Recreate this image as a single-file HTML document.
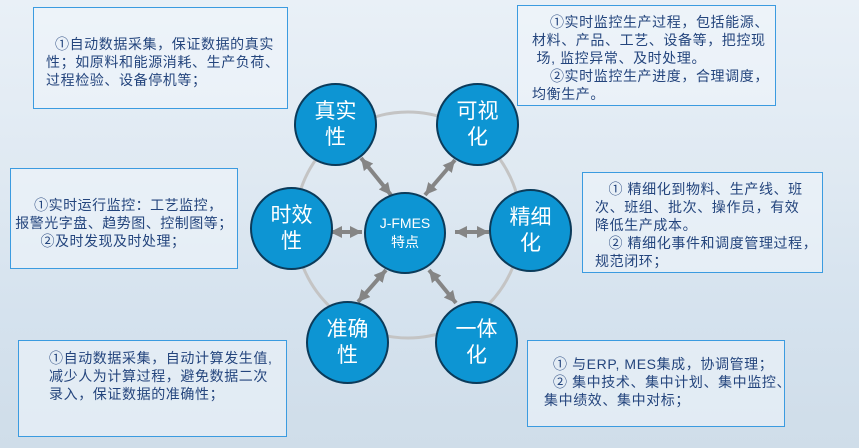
<!DOCTYPE html>
<html><head><meta charset="utf-8"><style>
body{margin:0;width:859px;height:448px;overflow:hidden;font-family:"Liberation Sans","Noto Sans CJK SC",sans-serif;}
.bg{position:absolute;left:0;top:0;width:859px;height:448px;background:linear-gradient(180deg,#e9f0f7 0%,#dfe9f2 40%,#d5e2ee 70%,#cfdde9 100%);}
.box{position:absolute;border:1.5px solid #3b9be0;background:rgba(240,246,252,0.55);color:#24457d;font-size:14px;letter-spacing:0.6px;line-height:18px;box-sizing:border-box;white-space:nowrap;}
.c{position:absolute;border-radius:50%;background:#0d95d3;border:2px solid #0b3b5a;color:#fff;text-align:center;box-sizing:border-box;display:flex;align-items:center;justify-content:center;font-size:21px;line-height:26px;}
</style></head><body>
<div class="bg"></div>
<div class="box" style="left:33px;top:7px;width:255px;height:102px;padding:27px 0 0 12px;">&nbsp;&nbsp;①自动数据采集，保证数据的真实<br>性；如原料和能源消耗、生产负荷、<br>过程检验、设备停机等；</div>
<div class="box" style="left:517px;top:5px;width:259px;height:101px;padding:7px 0 0 14px;">&nbsp;&nbsp;&nbsp;&nbsp;①实时监控生产过程，包括能源、<br>材料、产品、工艺、设备等，把控现<br>&nbsp;场, 监控异常、及时处理。<br>&nbsp;&nbsp;&nbsp;&nbsp;②实时监控生产进度，合理调度，<br>均衡生产。</div>
<div class="box" style="left:10px;top:168px;width:228px;height:101px;padding:27px 0 0 0;text-align:center;letter-spacing:0.5px;">&nbsp;&nbsp;①实时运行监控：工艺监控，<br>报警光字盘、趋势图、控制图等；<br>②及时发现及时处理；&nbsp;&nbsp;&nbsp;&nbsp;&nbsp;</div>
<div class="box" style="left:582px;top:172px;width:241px;height:101px;padding:7px 0 0 12px;">&nbsp;&nbsp;&nbsp;① 精细化到物料、生产线、班<br>次、班组、批次、操作员，有效<br>降低生产成本。<br>&nbsp;&nbsp;&nbsp;② 精细化事件和调度管理过程，<br>规范闭环；</div>
<div class="box" style="left:18px;top:340px;width:269px;height:97px;padding:8px 0 0 30px;">①自动数据采集，自动计算发生值,<br>减少人为计算过程，避免数据二次<br>录入，保证数据的准确性；</div>
<div class="box" style="left:527px;top:340px;width:258px;height:87px;padding:14px 0 0 16px;">&nbsp;&nbsp;① 与ERP, MES集成，协调管理；<br>&nbsp;&nbsp;② 集中技术、集中计划、集中监控、<br>集中绩效、集中对标；</div>
<svg style="position:absolute;left:0;top:0" width="859" height="448">
<defs><marker id="a" markerWidth="3" markerHeight="3" refX="3" refY="1.5" orient="auto-start-reverse"><path d="M0,0L3,1.5L0,3z" fill="#858585"/></marker></defs>
<circle cx="408" cy="225" r="113" fill="none" stroke="#c4c4c4" stroke-width="3"/>
<g stroke="#858585" stroke-width="4" marker-start="url(#a)" marker-end="url(#a)">
<line x1="361" y1="158" x2="391" y2="195"/>
<line x1="455" y1="160" x2="425" y2="195"/>
<line x1="330" y1="232" x2="362" y2="232"/>
<line x1="455" y1="232" x2="489" y2="232"/>
<line x1="358" y1="302" x2="386" y2="270"/>
<line x1="429" y1="270" x2="456" y2="303"/>
</g></svg>
<div class="c" style="left:294px;top:83px;width:83px;height:83px;">真实<br>性</div>
<div class="c" style="left:436px;top:83px;width:83px;height:83px;">可视<br>化</div>
<div class="c" style="left:250px;top:187px;width:83px;height:83px;">时效<br>性</div>
<div class="c" style="left:489px;top:189px;width:83px;height:83px;">精细<br>化</div>
<div class="c" style="left:306px;top:301px;width:83px;height:83px;">准确<br>性</div>
<div class="c" style="left:435px;top:301px;width:83px;height:83px;">一体<br>化</div>
<div class="c" style="left:364px;top:192px;width:82px;height:82px;font-size:14px;line-height:19px;">J-FMES<br>特点</div>
</body></html>
